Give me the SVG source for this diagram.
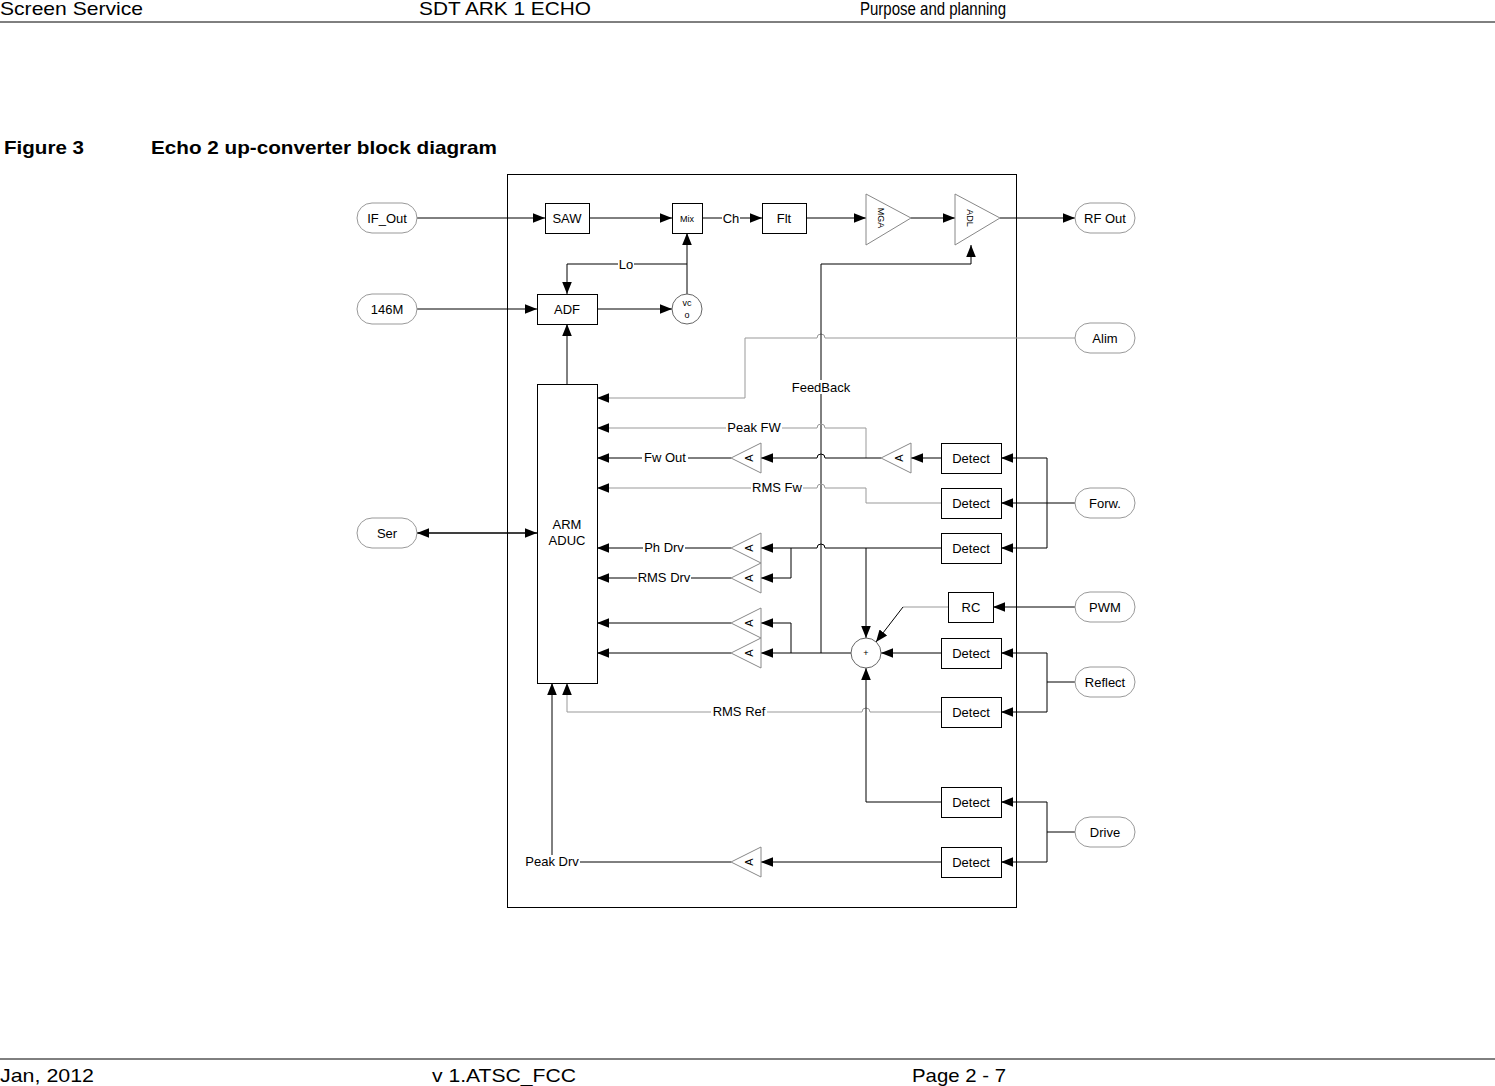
<svg xmlns="http://www.w3.org/2000/svg" width="1495" height="1086" viewBox="0 0 1495 1086">
<defs>
<marker id="ar" viewBox="0 0 10 10" refX="10" refY="5" markerWidth="12" markerHeight="12" markerUnits="userSpaceOnUse" orient="auto-start-reverse"><path d="M0,1 L10,5 L0,9 z" fill="#000"/></marker>
<style>
text{font-family:"Liberation Sans",Arial,sans-serif;fill:#000}
.h{font-size:19px}
.t{font-size:13px}
.s{font-size:9px}
.sa{font-size:11px}
.b{fill:#fff;stroke:#000;stroke-width:1}
.p{fill:#fff;stroke:#999;stroke-width:1}
.tri{fill:#fff;stroke:#888;stroke-width:1}
.w{fill:none;stroke:#000;stroke-width:1}
.g{fill:none;stroke:#999;stroke-width:1}
.a{marker-end:url(#ar)}
</style>
</defs>
<rect width="1495" height="1086" fill="#fff"/>
<g id="header">
<text class="h" x="0" y="15" textLength="143" lengthAdjust="spacingAndGlyphs">Screen Service</text>
<text class="h" x="419" y="15" textLength="172" lengthAdjust="spacingAndGlyphs">SDT ARK 1 ECHO</text>
<text class="h" x="860" y="15" textLength="146" lengthAdjust="spacingAndGlyphs">Purpose and planning</text>
<line x1="0" y1="22" x2="1495" y2="22" stroke="#000"/>
<text x="4" y="154" style="font-size:19px;font-weight:bold" textLength="80" lengthAdjust="spacingAndGlyphs">Figure 3</text>
<text x="151" y="154" style="font-size:19px;font-weight:bold" textLength="346" lengthAdjust="spacingAndGlyphs">Echo 2 up-converter block diagram</text>
<line x1="0" y1="1059" x2="1495" y2="1059" stroke="#000"/>
<text class="h" x="0" y="1082" textLength="94" lengthAdjust="spacingAndGlyphs">Jan, 2012</text>
<text class="h" x="432" y="1082" textLength="144" lengthAdjust="spacingAndGlyphs">v 1.ATSC_FCC</text>
<text class="h" x="912" y="1082" textLength="94" lengthAdjust="spacingAndGlyphs">Page 2 - 7</text>
</g>
<rect id="frame" x="507.5" y="174.5" width="509" height="733" fill="none" stroke="#000"/>
<g id="connectors">
<path class="w a" d="M417,218 H545"/>
<path class="w a" d="M589,218 H672"/>
<path class="w" d="M702,218 H722"/><path class="w a" d="M740,218 H762"/>
<path class="w a" d="M806,218 H866"/>
<path class="w a" d="M911,218 H955"/>
<path class="w a" d="M1000,218 H1075"/>
<path class="w a" d="M687,294 V233"/>
<path class="w a" d="M687,264 H567 V294"/>
<path class="w a" d="M417,309 H537"/>
<path class="w a" d="M597,309 H672"/>
<path class="w a" d="M567,384 V324"/>
<path class="g a" d="M1075,338 H825 A4,4 0 0 0 817,338 H745 V398 H597"/>
<path class="w a" d="M821,653 V264 H971 V245"/>
<path class="g a" d="M866,458 V428 H825 A4,4 0 0 0 817,428 H597"/>
<path class="w a" d="M941,458 H911"/>
<path class="w a" d="M881,458 H825 A4,4 0 0 0 817,458 H761"/>
<path class="w a" d="M731,458 H597"/>
<path class="g a" d="M941,503 H866 V488 H825 A4,4 0 0 0 817,488 H597"/>
<path class="w a" d="M941,548 H825 A4,4 0 0 0 817,548 H761"/>
<path class="w a" d="M731,548 H597"/>
<path class="w a" d="M791,548 V578 H761"/>
<path class="w a" d="M731,578 H597"/>
<path class="w a" d="M866,548 V638"/>
<path class="w a" d="M1075,607 H993"/>
<path class="g" d="M948,607 H903"/><path class="w a" d="M903,607 L876,642"/>
<path class="w a" d="M851,653 H761"/>
<path class="w a" d="M791,653 V623 H761"/>
<path class="w a" d="M731,623 H597"/>
<path class="w a" d="M731,653 H597"/>
<path class="w a" d="M941,653 H881"/>
<path class="g a" d="M941,712 H870 A4,4 0 0 0 862,712 H567 V683"/>
<path class="w a" d="M941,802 H866 V668"/>
<path class="w a" d="M941,862 H761"/>
<path class="w a" d="M731,862 H552 V683"/>
<path class="w a" d="M417,533 H537"/><path class="w a" d="M537,533 H417"/>
<path class="w" d="M1075,503 H1047"/>
<path class="w a" d="M1047,458 H1001"/><path class="w a" d="M1047,503 H1001"/><path class="w a" d="M1047,548 H1001"/>
<path class="w" d="M1047,458 V548"/>
<path class="w" d="M1075,682 H1047 M1047,653 V712"/>
<path class="w a" d="M1047,653 H1001"/><path class="w a" d="M1047,712 H1001"/>
<path class="w" d="M1075,832 H1047 M1047,802 V862"/>
<path class="w a" d="M1047,802 H1001"/><path class="w a" d="M1047,862 H1001"/>
<text class="t" x="731" y="223" text-anchor="middle">Ch</text>
<rect x="618" y="257" width="16" height="14" fill="#fff"/><text class="t" x="626" y="269" text-anchor="middle">Lo</text>
<rect x="790" y="380" width="62" height="14" fill="#fff"/><text class="t" x="821" y="392" text-anchor="middle">FeedBack</text>
<rect x="726" y="421" width="56" height="14" fill="#fff"/><text class="t" x="754" y="432" text-anchor="middle">Peak FW</text>
<rect x="642" y="451" width="46" height="14" fill="#fff"/><text class="t" x="665" y="462" text-anchor="middle">Fw Out</text>
<rect x="751" y="481" width="52" height="14" fill="#fff"/><text class="t" x="777" y="492" text-anchor="middle">RMS Fw</text>
<rect x="643" y="541" width="42" height="14" fill="#fff"/><text class="t" x="664" y="552" text-anchor="middle">Ph Drv</text>
<rect x="637" y="571" width="54" height="14" fill="#fff"/><text class="t" x="664" y="582" text-anchor="middle">RMS Drv</text>
<rect x="711" y="705" width="56" height="14" fill="#fff"/><text class="t" x="739" y="716" text-anchor="middle">RMS Ref</text>
<rect x="524" y="855" width="56" height="14" fill="#fff"/><text class="t" x="552" y="866" text-anchor="middle">Peak Drv</text>
</g>
<g id="IF_Out"><rect class="p" x="357" y="203" width="60" height="30" rx="15"/><text class="t" x="387" y="223" text-anchor="middle">IF_Out</text></g>
<g id="n146M"><rect class="p" x="357" y="294" width="60" height="30" rx="15"/><text class="t" x="387" y="314" text-anchor="middle">146M</text></g>
<g id="Ser"><rect class="p" x="357" y="518" width="60" height="30" rx="15"/><text class="t" x="387" y="538" text-anchor="middle">Ser</text></g>
<g id="RFOut"><rect class="p" x="1075" y="203" width="60" height="30" rx="15"/><text class="t" x="1105" y="223" text-anchor="middle">RF Out</text></g>
<g id="Alim"><rect class="p" x="1075" y="323" width="60" height="30" rx="15"/><text class="t" x="1105" y="343" text-anchor="middle">Alim</text></g>
<g id="Forw"><rect class="p" x="1075" y="488" width="60" height="30" rx="15"/><text class="t" x="1105" y="508" text-anchor="middle">Forw.</text></g>
<g id="PWM"><rect class="p" x="1075" y="592" width="60" height="30" rx="15"/><text class="t" x="1105" y="612" text-anchor="middle">PWM</text></g>
<g id="Reflect"><rect class="p" x="1075" y="667" width="60" height="30" rx="15"/><text class="t" x="1105" y="687" text-anchor="middle">Reflect</text></g>
<g id="Drive"><rect class="p" x="1075" y="817" width="60" height="30" rx="15"/><text class="t" x="1105" y="837" text-anchor="middle">Drive</text></g>
<g id="SAW"><rect class="b" x="545.5" y="203.5" width="44" height="30"/><text class="t" x="567" y="223" text-anchor="middle">SAW</text></g>
<g id="Mix"><rect class="b" x="672.5" y="203.5" width="30" height="30"/><text class="s" x="687" y="222" text-anchor="middle">Mix</text></g>
<g id="Flt"><rect class="b" x="762.5" y="203.5" width="44" height="30"/><text class="t" x="784" y="223" text-anchor="middle">Flt</text></g>
<g id="MGA"><path class="tri" d="M866,194 L911,218 L866,245 Z"/><text class="s" transform="translate(878,218) rotate(90)" text-anchor="middle">MGA</text></g>
<g id="ADL"><path class="tri" d="M955,194 L1000,218 L955,245 Z"/><text class="s" transform="translate(967,218) rotate(90)" text-anchor="middle">ADL</text></g>
<g id="ADF"><rect class="b" x="537.5" y="294.5" width="60" height="30"/><text class="t" x="567" y="314" text-anchor="middle">ADF</text></g>
<g id="VCO"><circle class="p" cx="687" cy="309" r="15" style="stroke:#666"/><text class="s" x="687" y="306" text-anchor="middle">vc</text><text class="s" x="687" y="318" text-anchor="middle">o</text></g>
<g id="ARM"><rect class="b" x="537.5" y="384.5" width="60" height="299"/><text class="t" x="567" y="529" text-anchor="middle">ARM</text><text class="t" x="567" y="545" text-anchor="middle">ADUC</text></g>
<g id="A1"><path class="tri" d="M761,443 L731,458 L761,473 Z"/><text class="sa" transform="translate(753,458) rotate(-90)" text-anchor="middle">A</text></g>
<g id="A2"><path class="tri" d="M911,443 L881,458 L911,473 Z"/><text class="sa" transform="translate(903,458) rotate(-90)" text-anchor="middle">A</text></g>
<g id="A3"><path class="tri" d="M761,533 L731,548 L761,563 Z"/><text class="sa" transform="translate(753,548) rotate(-90)" text-anchor="middle">A</text></g>
<g id="A4"><path class="tri" d="M761,563 L731,578 L761,593 Z"/><text class="sa" transform="translate(753,578) rotate(-90)" text-anchor="middle">A</text></g>
<g id="A5"><path class="tri" d="M761,608 L731,623 L761,638 Z"/><text class="sa" transform="translate(753,623) rotate(-90)" text-anchor="middle">A</text></g>
<g id="A6"><path class="tri" d="M761,638 L731,653 L761,668 Z"/><text class="sa" transform="translate(753,653) rotate(-90)" text-anchor="middle">A</text></g>
<g id="A7"><path class="tri" d="M761,847 L731,862 L761,877 Z"/><text class="sa" transform="translate(753,862) rotate(-90)" text-anchor="middle">A</text></g>
<g id="D1"><rect class="b" x="941.5" y="443.5" width="60" height="30"/><text class="t" x="971" y="463" text-anchor="middle">Detect</text></g>
<g id="D2"><rect class="b" x="941.5" y="488.5" width="60" height="30"/><text class="t" x="971" y="508" text-anchor="middle">Detect</text></g>
<g id="D3"><rect class="b" x="941.5" y="533.5" width="60" height="30"/><text class="t" x="971" y="553" text-anchor="middle">Detect</text></g>
<g id="RC"><rect class="b" x="948.5" y="592.5" width="45" height="30"/><text class="t" x="971" y="612" text-anchor="middle">RC</text></g>
<g id="D4"><rect class="b" x="941.5" y="638.5" width="60" height="30"/><text class="t" x="971" y="658" text-anchor="middle">Detect</text></g>
<g id="D5"><rect class="b" x="941.5" y="697.5" width="60" height="30"/><text class="t" x="971" y="717" text-anchor="middle">Detect</text></g>
<g id="D6"><rect class="b" x="941.5" y="787.5" width="60" height="30"/><text class="t" x="971" y="807" text-anchor="middle">Detect</text></g>
<g id="D7"><rect class="b" x="941.5" y="847.5" width="60" height="30"/><text class="t" x="971" y="867" text-anchor="middle">Detect</text></g>
<g id="Sum"><circle class="p" cx="866" cy="653" r="15" style="stroke:#666"/><text class="s" x="866" y="656" text-anchor="middle">+</text></g>
</svg>
